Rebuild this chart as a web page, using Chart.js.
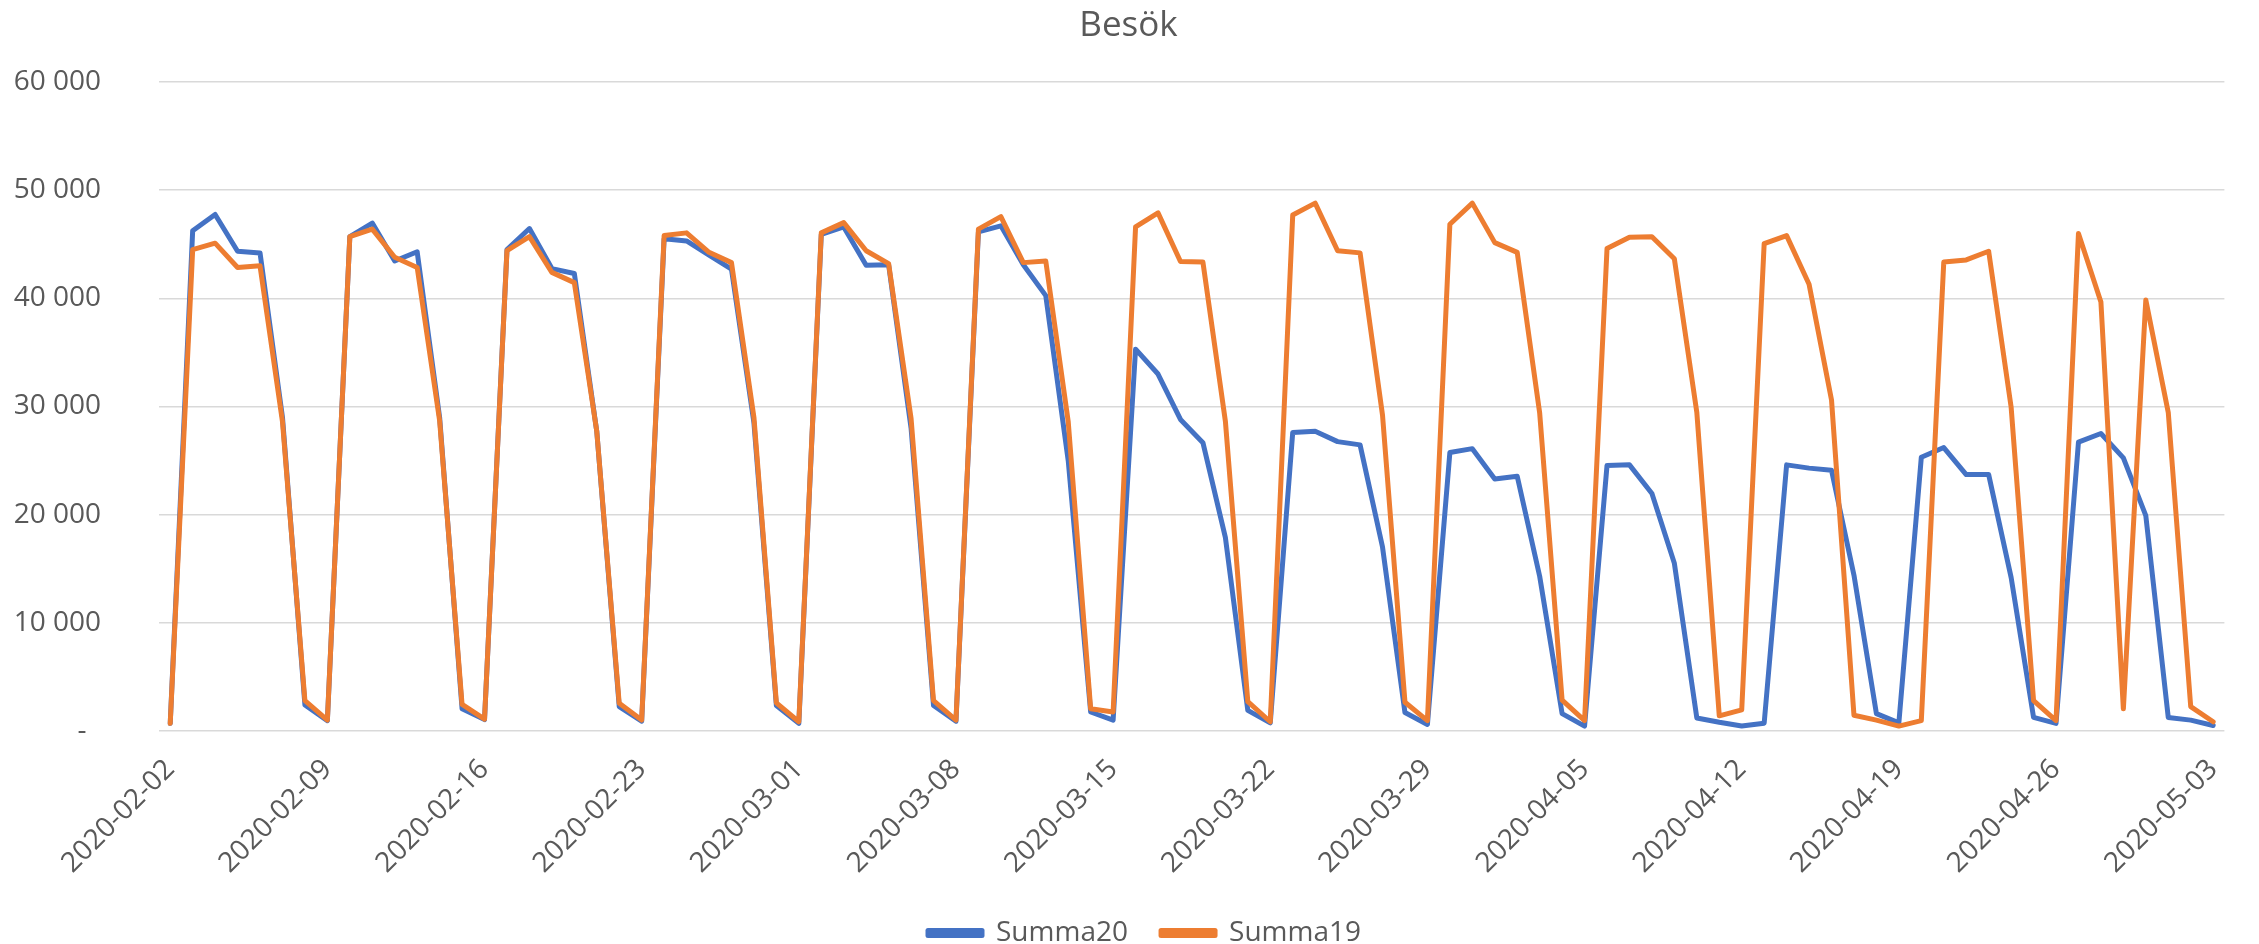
<!DOCTYPE html>
<html>
<head>
<meta charset="utf-8">
<title>Besök</title>
<script src="https://cdn.jsdelivr.net/npm/chart.js@4.4.0/dist/chart.umd.min.js"></script>
<style>
  html, body { margin: 0; padding: 0; background: #ffffff; }
  canvas { display: block; }
</style>
</head>
<body>
<canvas id="myChart" width="2259" height="944"></canvas>
<script>
// Daily dates, 2020-02-02 .. 2020-05-03
const dates = [
    '2020-02-02', '2020-02-03', '2020-02-04', '2020-02-05', '2020-02-06', '2020-02-07', '2020-02-08',
    '2020-02-09', '2020-02-10', '2020-02-11', '2020-02-12', '2020-02-13', '2020-02-14', '2020-02-15',
    '2020-02-16', '2020-02-17', '2020-02-18', '2020-02-19', '2020-02-20', '2020-02-21', '2020-02-22',
    '2020-02-23', '2020-02-24', '2020-02-25', '2020-02-26', '2020-02-27', '2020-02-28', '2020-02-29',
    '2020-03-01', '2020-03-02', '2020-03-03', '2020-03-04', '2020-03-05', '2020-03-06', '2020-03-07',
    '2020-03-08', '2020-03-09', '2020-03-10', '2020-03-11', '2020-03-12', '2020-03-13', '2020-03-14',
    '2020-03-15', '2020-03-16', '2020-03-17', '2020-03-18', '2020-03-19', '2020-03-20', '2020-03-21',
    '2020-03-22', '2020-03-23', '2020-03-24', '2020-03-25', '2020-03-26', '2020-03-27', '2020-03-28',
    '2020-03-29', '2020-03-30', '2020-03-31', '2020-04-01', '2020-04-02', '2020-04-03', '2020-04-04',
    '2020-04-05', '2020-04-06', '2020-04-07', '2020-04-08', '2020-04-09', '2020-04-10', '2020-04-11',
    '2020-04-12', '2020-04-13', '2020-04-14', '2020-04-15', '2020-04-16', '2020-04-17', '2020-04-18',
    '2020-04-19', '2020-04-20', '2020-04-21', '2020-04-22', '2020-04-23', '2020-04-24', '2020-04-25',
    '2020-04-26', '2020-04-27', '2020-04-28', '2020-04-29', '2020-04-30', '2020-05-01', '2020-05-02',
    '2020-05-03'
];

// Only these dates get a label on the x axis
const shownTicks = [
    '2020-02-02', '2020-02-09', '2020-02-16', '2020-02-23', '2020-03-01', '2020-03-08', '2020-03-15',
    '2020-03-22', '2020-03-29', '2020-04-05', '2020-04-12', '2020-04-19', '2020-04-26', '2020-05-03'
];

const summa20 = [
    700, 46250, 47750, 44350, 44200, 29000, 2400,
    950, 45700, 46950, 43450, 44300, 29000, 2050,
    1050, 44500, 46450, 42750, 42300, 27700, 2250,
    900, 45500, 45300, 44000, 42700, 28500, 2350,
    700, 45900, 46600, 43050, 43100, 28000, 2350,
    900, 46150, 46700, 43100, 40250, 25000, 1750,
    1000, 35300, 33000, 28800, 26650, 17900, 1900,
    750, 27600, 27700, 26750, 26450, 17000, 1700,
    600, 25750, 26100, 23300, 23550, 14300, 1600,
    450, 24550, 24600, 21950, 15500, 1200, 800,
    450, 720, 24600, 24300, 24100, 14400, 1600,
    750, 25300, 26200, 23700, 23700, 14200, 1250,
    700, 26700, 27500, 25250, 19900, 1250, 1000,
    500
];

const summa19 = [
    700, 44500, 45100, 42850, 43000, 28600, 2800,
    1000, 45700, 46400, 43800, 42850, 28700, 2450,
    1100, 44400, 45700, 42400, 41450, 27700, 2550,
    1000, 45800, 46050, 44250, 43300, 29000, 2600,
    850, 46050, 47000, 44400, 43200, 28900, 2800,
    1000, 46400, 47550, 43300, 43450, 28600, 2050,
    1750, 46600, 47900, 43400, 43350, 28650, 2700,
    850, 47700, 48800, 44400, 44200, 29200, 2650,
    950, 46850, 48800, 45150, 44250, 29400, 2850,
    950, 44600, 45650, 45700, 43650, 29450, 1400,
    1950, 45050, 45800, 41300, 30600, 1450, 1000,
    450, 950, 43350, 43550, 44350, 29950, 2800,
    950, 46000, 39650, 2050, 39850, 29450, 2250,
    850
];

const textColor = '#595959';
const fontFamily = "'Open Sans', sans-serif";

// "60 000" style numbers, zero shown as a dash
function formatTick(value) {
    if (value === 0) return '-  ';
    return value.toString().replace(/\B(?=(\d{3})+(?!\d))/g, ' ');
}

// push the legend a bit further down and right, like the original
const legendShift = {
    id: 'legendShift',
    afterLayout(chart) {
        chart.legend.top += 13;
        chart.legend.bottom += 13;
        chart.legend.left += 16;
        chart.legend.right += 16;
    }
};

let ctx = document.getElementById('myChart').getContext('2d');

let myChart = new Chart(ctx, {
    type: 'line',
    data: {
        labels: dates,
        datasets: [{
            label: 'Summa20',
            data: summa20,
            borderColor: '#4472C4',
            backgroundColor: '#4472C4',
            borderWidth: 5,
            pointRadius: 0,
            borderJoinStyle: 'round',
            borderCapStyle: 'round',
            order: 2
        }, {
            label: 'Summa19',
            data: summa19,
            borderColor: '#ED7D31',
            backgroundColor: '#ED7D31',
            borderWidth: 5,
            pointRadius: 0,
            borderJoinStyle: 'round',
            borderCapStyle: 'round',
            order: 1
        }]
    },
    plugins: [legendShift],
    options: {
        responsive: false,
        devicePixelRatio: 1,
        animation: false,
        layout: {
            padding: {left: 12, right: 14, top: 0, bottom: 0}
        },
        plugins: {
            title: {
                display: true,
                text: 'Besök',
                color: textColor,
                font: {family: fontFamily, size: 35, weight: 'normal'},
                padding: {top: 5, bottom: 35}
            },
            legend: {
                position: 'bottom',
                labels: {
                    color: textColor,
                    font: {family: fontFamily, size: 28},
                    boxWidth: 54,
                    boxHeight: 5,
                    padding: 4,
                    sort: (a, b) => a.datasetIndex - b.datasetIndex,
                    generateLabels: (chart) => {
                        let items = Chart.defaults.plugins.legend.labels.generateLabels(chart);
                        // extra room after the first entry
                        items.forEach(item => {
                            if (item.datasetIndex === 0) item.text = item.text + '    ';
                        });
                        return items;
                    }
                }
            },
            tooltip: {enabled: false}
        },
        scales: {
            x: {
                offset: true,
                grid: {display: false, drawTicks: false},
                border: {display: false},
                ticks: {
                    autoSkip: false,
                    minRotation: 45,
                    maxRotation: 45,
                    padding: 22,
                    color: textColor,
                    font: {family: fontFamily, size: 28},
                    callback: function (value, index) {
                        let label = this.getLabelForValue(value);
                        return shownTicks.includes(label) ? label : '';
                    }
                }
            },
            y: {
                min: 0,
                max: 60000,
                grid: {color: '#d9d9d9', lineWidth: 1.5, drawTicks: false},
                border: {display: false},
                afterFit: (scale) => { scale.width = 147; },
                ticks: {
                    stepSize: 10000,
                    padding: 58,
                    color: textColor,
                    font: {family: fontFamily, size: 28},
                    callback: formatTick
                }
            }
        }
    }
});
</script>
</body>
</html>
